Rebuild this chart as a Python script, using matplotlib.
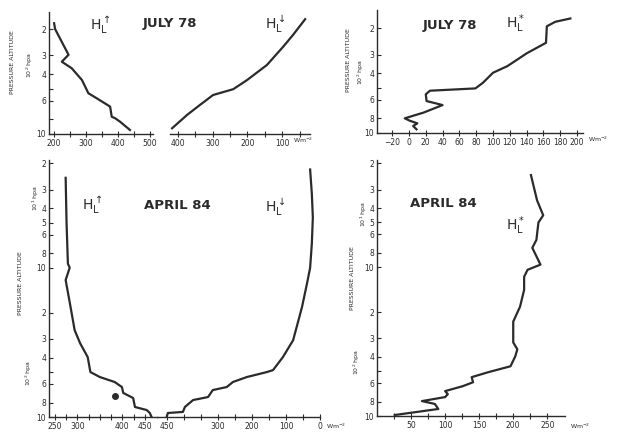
import matplotlib
matplotlib.use("Agg")
import matplotlib.pyplot as plt
from matplotlib.ticker import NullLocator

W, H = 621, 444

# July 78, upward longwave flux (W m-2) vs pressure (hPa)
jul_up_p = [183, 200, 283, 297, 330, 365, 437, 535, 578, 657, 767, 786, 828, 940]
jul_up_w = [200, 203, 240, 245, 224, 255, 287, 307, 333, 375, 380, 391, 406, 437]

# July 78, downward flux
jul_dn_p = [916, 747, 641, 550, 503, 437, 347, 262, 219, 172]
jul_dn_w = [417, 374, 337, 299, 241, 201, 144, 97, 69, 34]

# July 78, net flux H*
jul_net_p = [945, 898, 862, 828, 798, 732, 651, 612, 552, 522, 504, 462, 396, 358, 294, 250, 194, 181, 172]
jul_net_w = [9, 5, 10, 1, -5, 17, 40, 21, 20, 25, 79, 88, 100, 117, 140, 163, 164, 174, 192]

# April 84, upward flux
apr_up_p = [25, 50, 94, 100, 121, 184, 262, 320, 397, 500, 540, 583, 630, 690, 746, 857, 898, 940, 1000]
apr_up_w = [274, 276, 279, 283, 274, 285, 294, 306, 323, 329, 350, 383, 399, 402, 424, 428, 454, 461, 465]

# April 84, downward flux
apr_dn_p = [985, 940, 925, 857, 770, 735, 660, 630, 583, 540, 500, 485, 397, 306, 184, 127, 100, 69, 46, 32, 22]
apr_dn_w = [450, 447, 403, 397, 373, 329, 315, 274, 256, 215, 156, 138, 109, 79, 53, 38, 29, 24, 21, 24, 29]

# April 84, net flux H*
apr_net_p = [985, 897, 830, 794, 746, 713, 680, 630, 593, 548, 508, 463, 397, 356, 320, 232, 184,
             142, 116, 104, 96, 74, 65.5, 50, 44.7, 35.5, 24]
apr_net_w = [26, 90, 85, 66, 100, 104, 100, 126, 141, 139, 163, 196, 203, 206, 200, 200, 210,
             216, 216, 221, 240, 228, 234, 237, 244, 235, 226]

# single marked point on April upward profile
apr_dot_p = [724]
apr_dot_w = [383]

INK = "#2b2b2b"
LW = 1.6
FS_TICK = 5.5


def box(x0, y_top, x1, y_bot):
    return [x0 / W, 1 - y_bot / H, (x1 - x0) / W, (y_bot - y_top) / H]


def ftext(x, y, s, **kw):
    fig.text(x / W, 1 - y / H, s, color=INK, ha="center", va="center", **kw)


def style(ax, left=True):
    ax.set_yscale("log")
    ax.yaxis.set_minor_locator(NullLocator())
    ax.xaxis.set_minor_locator(NullLocator())
    for s in ["top", "right"]:
        ax.spines[s].set_visible(False)
    ax.spines["left"].set_visible(left)
    for s in ["left", "bottom"]:
        ax.spines[s].set_color(INK)
        ax.spines[s].set_linewidth(1.0)
    ax.tick_params(axis="x", direction="inout", length=4, width=0.8, colors=INK,
                   labelsize=FS_TICK, pad=1.5)
    ax.tick_params(axis="y", direction="in", length=3, width=0.8, colors=INK,
                   labelsize=FS_TICK, pad=2, left=left, labelleft=left)
    ax.patch.set_alpha(0)


def yticks_top(ax, labels):
    ax.set_yticks([200, 300, 400, 500, 600, 800, 1000])
    ax.set_yticklabels(labels)


def yticks_bottom(ax):
    ax.set_yticks([20, 30, 40, 50, 60, 80, 100, 200, 300, 400, 500, 600, 800, 1000])
    ax.set_yticklabels(["2", "3", "4", "5", "6", "8", "10", "2", "3", "4", "", "6", "8", "10"])


plt.rcParams["mathtext.default"] = "regular"
plt.rcParams["font.family"] = "DejaVu Sans"

fig = plt.figure(figsize=(W / 100, H / 100), dpi=100)
fig.patch.set_facecolor("white")

# ---- July 78, up/down ----
ax = fig.add_axes(box(49, 12, 153, 134))
style(ax)
ax.plot(jul_up_w, jul_up_p, color=INK, lw=LW)
ax.set_xlim(184, 509)
ax.set_ylim(1000, 154)
ax.set_xticks([200, 250, 300, 350, 400, 450, 500])
ax.set_xticklabels(["200", "", "300", "", "400", "", "500"])
yticks_top(ax, ["2", "3", "4", "", "6", "", "10"])

ax = fig.add_axes(box(170, 12, 310, 134))
style(ax, left=False)
ax.plot(jul_dn_w, jul_dn_p, color=INK, lw=LW)
ax.set_xlim(423, 20)
ax.set_ylim(1000, 154)
ax.set_xticks([400, 350, 300, 250, 200, 150, 100, 50])
ax.set_xticklabels(["400", "", "300", "", "200", "", "100", ""])

ftext(100, 25, r"$H_L^{\uparrow}$", fontsize=10)
ftext(170, 24, "JULY 78", fontsize=9.5, fontweight="bold")
ftext(275, 24, r"$H_L^{\downarrow}$", fontsize=10)
ftext(303, 140, r"Wm$^{-2}$", fontsize=4.5)
ftext(13, 62, "PRESSURE ALTITUDE", fontsize=4.5, rotation=90)
ftext(30, 65, r"10$^2$ hpa", fontsize=4.5, rotation=90)

# ---- July 78, net ----
ax = fig.add_axes(box(377, 10, 583, 133))
style(ax)
ax.plot(jul_net_w, jul_net_p, color=INK, lw=LW)
ax.set_xlim(-38, 207)
ax.set_ylim(1000, 151)
ax.set_xticks(list(range(-20, 201, 20)))
yticks_top(ax, ["2", "3", "4", "", "6", "8", "10"])

ftext(450, 25, "JULY 78", fontsize=9.5, fontweight="bold")
ftext(515, 24, r"$H_L^*$", fontsize=10)
ftext(598, 139, r"Wm$^{-2}$", fontsize=4.5)
ftext(348, 60, "PRESSURE ALTITUDE", fontsize=4.5, rotation=90)
ftext(361, 72, r"10$^2$ hpa", fontsize=4.5, rotation=90)

# ---- April 84, up/down ----
ax = fig.add_axes(box(49, 160, 157, 417))
style(ax)
ax.plot(apr_up_w, apr_up_p, color=INK, lw=LW)
ax.plot(apr_dot_w, apr_dot_p, "o", color=INK, ms=4)
ax.set_xlim(237, 477)
ax.set_ylim(1000, 19)
ax.set_xticks([250, 275, 300, 325, 350, 375, 400, 425, 450])
ax.set_xticklabels(["250", "", "300", "", "", "", "400", "", "450"])
yticks_bottom(ax)

ax = fig.add_axes(box(157, 160, 320, 417))
style(ax, left=False)
ax.plot(apr_dn_w, apr_dn_p, color=INK, lw=LW)
ax.set_xlim(479, 0)
ax.set_ylim(1000, 19)
ax.set_xticks([450, 400, 350, 300, 250, 200, 150, 100, 50, 0])
ax.set_xticklabels(["450", "", "", "300", "", "200", "", "100", "", "0"])

ftext(92, 205, r"$H_L^{\uparrow}$", fontsize=10)
ftext(177, 205, "APRIL 84", fontsize=9.5, fontweight="bold")
ftext(275, 207, r"$H_L^{\downarrow}$", fontsize=10)
ftext(336, 426, r"Wm$^{-2}$", fontsize=4.5)
ftext(20, 283, "PRESSURE ALTITUDE", fontsize=4.5, rotation=90)
ftext(36, 198, r"10$^1$ hpa", fontsize=4.5, rotation=90)
ftext(29, 373, r"10$^2$ hpa", fontsize=4.5, rotation=90)

# ---- April 84, net ----
ax = fig.add_axes(box(377, 160, 565, 416))
style(ax)
ax.plot(apr_net_w, apr_net_p, color=INK, lw=LW)
ax.set_xlim(0, 276)
ax.set_ylim(1000, 19)
ax.set_xticks([25, 50, 75, 100, 125, 150, 175, 200, 225, 250])
ax.set_xticklabels(["", "50", "", "100", "", "150", "", "200", "", "250"])
yticks_bottom(ax)

ftext(443, 203, "APRIL 84", fontsize=9.5, fontweight="bold")
ftext(515, 226, r"$H_L^*$", fontsize=10)
ftext(580, 426, r"Wm$^{-2}$", fontsize=4.5)
ftext(352, 278, "PRESSURE ALTITUDE", fontsize=4.5, rotation=90)
ftext(364, 214, r"10$^1$ hpa", fontsize=4.5, rotation=90)
ftext(357, 362, r"10$^2$ hpa", fontsize=4.5, rotation=90)

fig.savefig("out.png", dpi=100, facecolor="white")
